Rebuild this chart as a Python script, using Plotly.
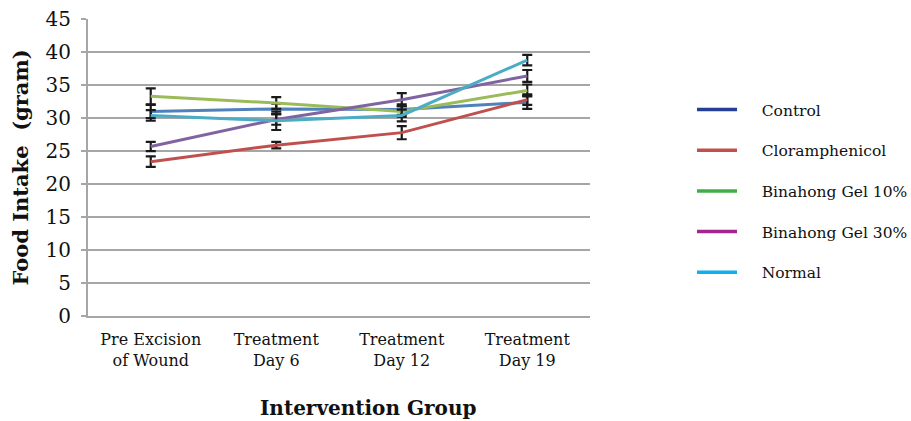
import plotly.graph_objects as go

categories = ["Pre Excision<br>of Wound", "Treatment<br>Day 6", "Treatment<br>Day 12", "Treatment<br>Day 19"]
series_names = ["Control", "Cloramphenicol", "Binahong Gel 10%", "Binahong Gel 30%", "Normal"]
control = [31.0, 31.4, 31.3, 32.4]
cloramphenicol = [23.4, 25.9, 27.8, 32.8]
binahong10 = [33.3, 32.3, 31.0, 34.2]
binahong30 = [25.7, 29.8, 32.8, 36.4]
normal = [30.4, 29.6, 30.4, 38.8]
control_err = [1.0, 0.8, 0.8, 1.0]
cloramphenicol_err = [0.8, 0.5, 1.0, 0.8]
binahong10_err = [1.2, 0.9, 0.8, 0.9]
binahong30_err = [0.7, 0.8, 1.0, 0.9]
normal_err = [0.8, 1.4, 0.9, 0.8]
y_ticks = [0, 5, 10, 15, 20, 25, 30, 35, 40, 45]
x_title = "Intervention Group"
y_title = "Food Intake  (gram)"

values = [control, cloramphenicol, binahong10, binahong30, normal]
errors = [control_err, cloramphenicol_err, binahong10_err, binahong30_err, normal_err]
plot_colors = ["#4f81bd", "#c0504d", "#9bbb59", "#8064a2", "#4bacc6"]
legend_colors = ["#243f94", "#c0504d", "#3fae49", "#a3268f", "#0fb0ee"]

fig = go.Figure()
for name, vals, err, col in zip(series_names, values, errors, plot_colors):
    fig.add_trace(go.Scatter(
        x=categories, y=vals, mode="lines", name=name, showlegend=False,
        line=dict(color=col, width=3),
        error_y=dict(type="data", array=err, visible=True, color="#1a1a1a", thickness=2.2, width=5),
    ))
for i, (name, col) in enumerate(zip(series_names, legend_colors)):
    fig.add_trace(go.Scatter(
        x=[None], y=[None], mode="lines", name="\u00a0\u00a0\u00a0\u00a0" + name, legendgroup=f"g{i}",
        line=dict(color=col, width=3.5),
    ))

fig.update_layout(
    width=911, height=421,
    margin=dict(l=88, r=321, t=19, b=105),
    paper_bgcolor="white", plot_bgcolor="white",
    font=dict(family="DejaVu Serif", color="#111111"),
    legend=dict(xref="container", yref="container", x=0.7596, y=0.779,
                xanchor="left", yanchor="top",
                font=dict(size=15.5, family="DejaVu Serif"),
                tracegroupgap=17.5, itemwidth=40),
    xaxis=dict(
        type="category", range=[-0.5, 3.5], showgrid=False, automargin=False,
        showline=True, linecolor="#a6a6a6", linewidth=2,
        tickfont=dict(size=16), ticks="", ticklabelstandoff=8,
    ),
    yaxis=dict(
        range=[0, 45.03], tickmode="array", tickvals=y_ticks, showgrid=True, gridcolor="#a6a6a6", gridwidth=2,
        showline=True, linecolor="#a6a6a6", linewidth=2, zeroline=False, automargin=False,
        ticks="outside", ticklen=5, tickcolor="#a6a6a6", tickwidth=2,
        tickfont=dict(size=20), ticklabelstandoff=6,
        title=dict(text=f"<b>{y_title}</b>", font=dict(size=21), standoff=11),
    ),
    annotations=[dict(
        text=f"<b>{x_title}</b>", xref="paper", yref="paper", x=0.557, y=-0.31,
        xanchor="center", yanchor="middle", showarrow=False, font=dict(size=20),
    )],
)

fig.write_html("out.html", config={"displayModeBar": False},
               post_script="document.body.style.margin='0';document.body.style.overflow='hidden';")
